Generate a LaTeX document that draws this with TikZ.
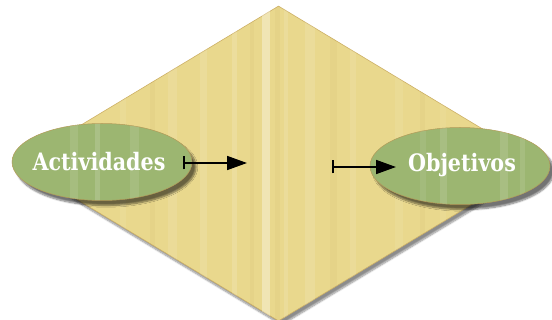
\documentclass[tikz,border=0pt]{standalone}
\usepackage{fontspec}
\newfontfamily\rotulo[FakeStretch=0.86]{DejaVu Serif}
\usetikzlibrary{shapes.geometric}
\usetikzlibrary{arrows.meta}
\usetikzlibrary{shadows.blur}
\definecolor{paja}{HTML}{E9D88D}
\definecolor{bordepaja}{HTML}{CDB066}
\definecolor{hoja}{HTML}{9CB671}
\definecolor{bordehoja}{HTML}{B39A58}
\begin{document}
\begin{tikzpicture}[x=1pt,y=-1pt]

		\tikzset{rombo/.style = {shape=diamond,draw=bordepaja,fill=paja,line width=0.6pt,inner sep=0pt,minimum width=523pt,minimum height=315pt,aspect=1.66,
			blur shadow={shadow xshift=3pt,shadow yshift=-4pt,shadow blur steps=8,shadow opacity=45}}}
		\tikzset{burbuja/.style = {shape=ellipse,draw=bordehoja,fill=hoja,line width=0.5pt,inner sep=0pt,minimum width=180pt,minimum height=77pt,
			blur shadow={shadow xshift=4pt,shadow yshift=-5pt,shadow blur steps=8,shadow opacity=55}}}
		\tikzset{rotulo/.style = {text=white,font=\rotulo\bfseries\fontsize{24}{28}\selectfont}}
		\tikzset{flecha/.style = {{Bar[width=13pt]}-{Triangle[length=20pt,width=14pt]},line width=1.7pt}}

		\useasboundingbox (0,0) rectangle (552,320);

		\node[rombo] (R) at (278.5,163.5) {};
		\begin{scope}
			\clip (R.north) -- (R.east) -- (R.south) -- (R.west) -- cycle;
			\foreach \x/\w/\o in {120/6/0.08, 168/9/0.1, 200/7/0.12, 232/5/0.15, 262/8/0.35, 284/4/0.12, 305/10/0.12, 350/6/0.1, 395/8/0.08, 440/6/0.06}
				\fill[white,opacity=\o] (\x,0) rectangle ++(\w,320);
			\foreach \x/\w in {150/5, 250/4, 275/5, 330/7, 420/5}
				\fill[bordepaja,opacity=0.12] (\x,0) rectangle ++(\w,320);
		\end{scope}

		\node[burbuja] (L) at (102,162) {};
		\node[burbuja] (O) at (460,166) {};
		\begin{scope}
			\clip (L.center) ellipse (90 and 38.5) (O.center) ellipse (90 and 38.5);
			\foreach \x/\w/\o in {70/8/0.1, 95/5/0.15, 130/9/0.1, 420/6/0.08, 440/7/0.12, 500/8/0.12, 520/5/0.1}
				\fill[white,opacity=\o] (\x,100) rectangle ++(\w,120);
		\end{scope}

		\node[rotulo] (Lt) at (99,162) {Actividades};
		\node[rotulo] (Ot) at (462,165) {Objetivos};

		\coordinate (a1) at (183,163);
		\coordinate (a2) at (247,163);
		\coordinate (b1) at (332,167);
		\coordinate (b2) at (396,167);
		\draw[flecha] (a1) -- (a2);
		\draw[flecha] (b1) -- (b2);

\end{tikzpicture}
\end{document}
